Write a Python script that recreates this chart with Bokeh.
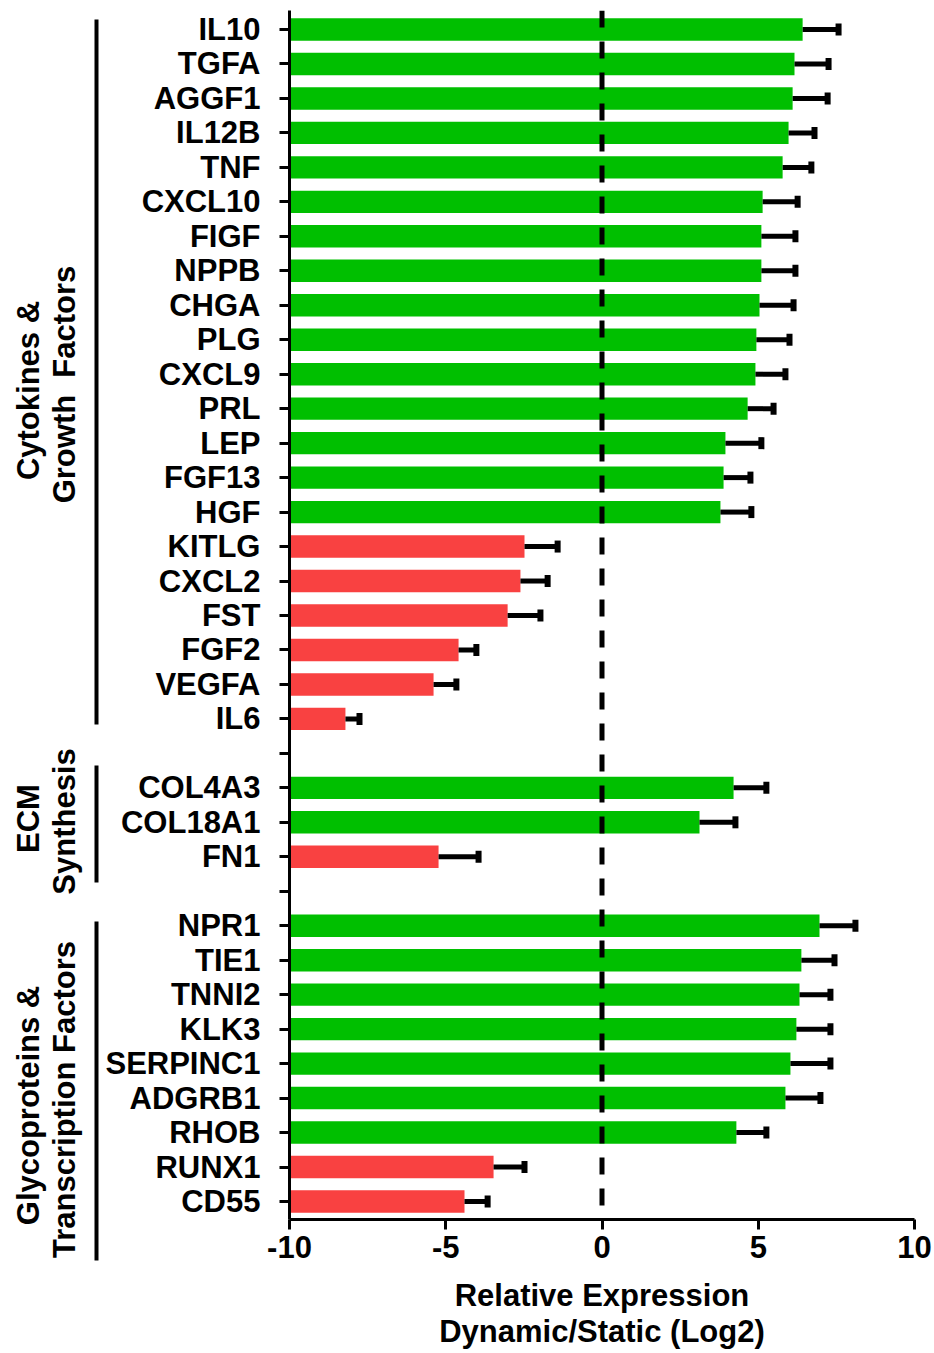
import math
from bokeh.plotting import figure
from bokeh.layouts import row
from bokeh.models import ColumnDataSource, Range1d, FixedTicker, Span
from bokeh.core.properties import value
from bokeh.embed import file_html
from bokeh.resources import INLINE

# ---------------- data ----------------
cytokine_genes = ["IL10", "TGFA", "AGGF1", "IL12B", "TNF", "CXCL10", "FIGF", "NPPB",
                  "CHGA", "PLG", "CXCL9", "PRL", "LEP", "FGF13", "HGF", "KITLG",
                  "CXCL2", "FST", "FGF2", "VEGFA", "IL6"]
cytokine_values = [6.42, 6.16, 6.10, 5.97, 5.78, 5.14, 5.10, 5.10, 5.04, 4.94, 4.91,
                   4.66, 3.95, 3.89, 3.79, -2.48, -2.61, -3.02, -4.59, -5.39, -8.21]
cytokine_errors = [1.15, 1.09, 1.12, 0.83, 0.92, 1.12, 1.09, 1.09, 1.09, 1.06, 0.96,
                   0.83, 1.15, 0.86, 0.99, 1.06, 0.87, 1.05, 0.57, 0.73, 0.45]

ecm_genes = ["COL4A3", "COL18A1", "FN1"]
ecm_values = [4.21, 3.12, -5.23]
ecm_errors = [1.05, 1.15, 1.28]

glyco_genes = ["NPR1", "TIE1", "TNNI2", "KLK3", "SERPINC1", "ADGRB1", "RHOB", "RUNX1", "CD55"]
glyco_values = [6.96, 6.38, 6.32, 6.22, 6.03, 5.87, 4.30, -3.47, -4.40]
glyco_errors = [1.15, 1.06, 0.99, 1.09, 1.28, 1.12, 0.96, 0.99, 0.74]

x_ticks = [-10, -5, 0, 5, 10]
x_tick_labels = ["-10", "-5", "0", "5", "10"]
group_title_line1 = ["Cytokines &", "ECM", "Glycoproteins &"]
group_title_line2 = ["Growth\u00a0 Factors", "Synthesis", "Transcription Factors"]
x_title = "Relative Expression\nDynamic/Static (Log2)"

# ---------------- layout constants (pixels) ----------------
W, H = 934, 1353
SIDE_W = 100                      # left strip holding the group brackets/titles
LEFT, RIGHT, TOP, BOTTOM = 289, 20, 10, 134
ROW_PX = 34.47
FIRST_ROW_PX = 29
bracket_top = [19, 765, 921]
bracket_bottom = [724, 882, 1260]
bracket_x = 96
title_center_1 = [390, 818, 1105]
title_center_2 = [384, 821, 1099]
title_base_1 = 28
title_base_2 = 64

FONT = "Liberation Sans"
GREEN = "#00BF00"
RED = "#F94141"

# ---------------- assemble rows (blank row between groups) ----------------
groups = [(cytokine_genes, cytokine_values, cytokine_errors),
          (ecm_genes, ecm_values, ecm_errors),
          (glyco_genes, glyco_values, glyco_errors)]
rows_y, rows_val, rows_err = [], [], []
labels = {}
pos = 0
for gi, (g, v, e) in enumerate(groups):
    for name, val, err in zip(g, v, e):
        rows_y.append(pos)
        rows_val.append(val)
        rows_err.append(err)
        labels[pos] = name
        pos += 1
    if gi < len(groups) - 1:
        labels[pos] = ""
        pos += 1
n_rows = pos

src = ColumnDataSource(dict(
    y=rows_y, val=rows_val,
    left=[x_ticks[0]] * len(rows_val),
    err_end=[v + e for v, e in zip(rows_val, rows_err)],
    color=[GREEN if v > 0 else RED for v in rows_val]))

y_top = -(FIRST_ROW_PX - TOP) / ROW_PX
y_bot = y_top + (H - TOP - BOTTOM) / ROW_PX

# ---------------- main chart ----------------
p = figure(width=W - SIDE_W, height=H, output_backend="svg", toolbar_location=None,
           x_range=Range1d(x_ticks[0], x_ticks[-1]), y_range=Range1d(y_bot, y_top),
           min_border_left=LEFT - SIDE_W, min_border_right=RIGHT,
           min_border_top=TOP, min_border_bottom=BOTTOM)
p.outline_line_color = None
p.xgrid.visible = False
p.ygrid.visible = False

p.hbar(y="y", left="left", right="val", height=0.65, color="color",
       line_color=None, source=src)
p.segment(x0="val", y0="y", x1="err_end", y1="y", line_width=5,
          line_color="black", source=src)
p.rect(x="err_end", y="y", width=6, height=12, width_units="screen",
       height_units="screen", fill_color="black", line_color=None, source=src)

p.add_layout(Span(location=0, dimension="height", line_color="black",
                  line_width=5, line_dash="17 14"))

for ax in (p.xaxis[0], p.yaxis[0]):
    ax.axis_line_width = 3
    ax.axis_line_color = "black"
    ax.major_tick_line_width = 3
    ax.major_tick_line_color = "black"
    ax.major_tick_in = 0
    ax.major_tick_out = 10
    ax.minor_tick_line_color = None
    ax.major_label_text_font = FONT
    ax.major_label_text_font_style = "bold"
    ax.major_label_text_font_size = "31px"
    ax.major_label_text_color = "black"

p.xaxis.ticker = FixedTicker(ticks=x_ticks)
p.xaxis.major_label_overrides = dict(zip(x_ticks, x_tick_labels))
p.xaxis.major_label_standoff = 6
p.xaxis.axis_label = x_title
p.xaxis.axis_label_text_font = FONT
p.xaxis.axis_label_text_font_style = "bold"
p.xaxis.axis_label_text_font_size = "31px"
p.xaxis.axis_label_text_color = "black"
p.xaxis.axis_label_text_line_height = 1.04
p.xaxis.axis_label_standoff = 17

p.yaxis.ticker = FixedTicker(ticks=list(range(n_rows)))
p.yaxis.major_label_overrides = labels
p.yaxis.major_label_standoff = 19

# ---------------- left strip: group brackets and titles ----------------
s = figure(width=SIDE_W, height=H, output_backend="svg", toolbar_location=None,
           x_range=Range1d(0, SIDE_W), y_range=Range1d(H, 0),
           min_border=0, x_axis_location=None, y_axis_location=None)
s.frame_align = False
s.outline_line_color = None
s.xgrid.visible = False
s.ygrid.visible = False
s.segment(x0=[bracket_x] * 3, y0=bracket_top, x1=[bracket_x] * 3, y1=bracket_bottom,
          line_width=4, line_color="black")
s.text(x=[title_base_1] * 3, y=title_center_1, text=group_title_line1,
       angle=math.pi / 2, text_align="center", text_baseline="alphabetic",
       text_font=value(FONT), text_font_style="bold", text_font_size="31px",
       text_color="black")
s.text(x=[title_base_2] * 3, y=title_center_2, text=group_title_line2,
       angle=math.pi / 2, text_align="center", text_baseline="alphabetic",
       text_font=value(FONT), text_font_style="bold", text_font_size="31px",
       text_color="black")

layout = row(s, p, spacing=0)
open("out.html", "w").write(file_html(layout, INLINE))
